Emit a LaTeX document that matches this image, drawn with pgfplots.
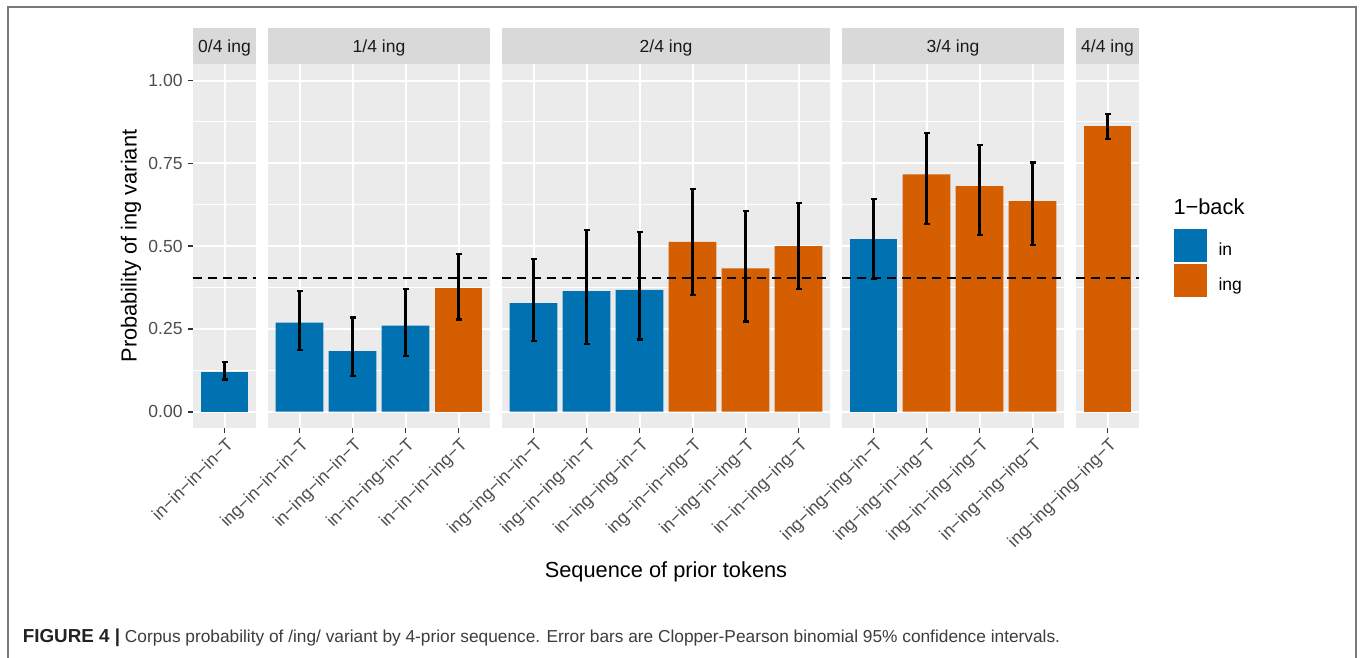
\documentclass[border=0pt]{standalone}
\usepackage{fontspec}
\setmainfont{Liberation Sans}
\usepackage{pgfplots}
\usepackage{pgfplotstable}
\pgfplotsset{compat=1.18}

\definecolor{cin}{HTML}{0072B2}
\definecolor{cing}{HTML}{D55E00}
\definecolor{panelbg}{HTML}{EBEBEB}
\definecolor{stripbg}{HTML}{D9D9D9}
\definecolor{tickgray}{HTML}{4D4D4D}
\definecolor{tickmark}{HTML}{333333}
\definecolor{striptext}{HTML}{1A1A1A}
\definecolor{framegray}{HTML}{7A7A7A}
\definecolor{capdark}{HTML}{222222}
\definecolor{captxt}{HTML}{3C3C3C}

\newcommand{\ticksize}{\fontsize{17.5}{20}\selectfont}
\newcommand{\titlesize}{\fontsize{21.8}{25}\selectfont}

% x = position in facet, p = probability, lo/hi = 95% CI, g = 1-back (0 = in, 1 = ing)
\pgfplotstableread{
x p lo hi g
1 0.121 0.097 0.150 0
}\tabA
\pgfplotstableread{
x p lo hi g
1 0.269 0.187 0.365 0
2 0.183 0.107 0.285 0
3 0.260 0.169 0.370 0
4 0.374 0.279 0.477 1
}\tabB
\pgfplotstableread{
x p lo hi g
1 0.328 0.213 0.462 0
2 0.364 0.205 0.549 0
3 0.368 0.218 0.542 0
4 0.513 0.352 0.672 1
5 0.433 0.272 0.607 1
6 0.500 0.371 0.631 1
}\tabC
\pgfplotstableread{
x p lo hi g
1 0.521 0.401 0.643 0
2 0.717 0.567 0.841 1
3 0.681 0.534 0.806 1
4 0.636 0.504 0.753 1
}\tabD
\pgfplotstableread{
x p lo hi g
1 0.864 0.824 0.899 1
}\tabE

\pgfplotsset{
  facet/.style={
    scale only axis, height=364.3pt, anchor=south west,
    ymin=-0.05, ymax=1.05,
    axis background/.style={fill=panelbg},
    axis line style={draw=none},
    ytick={0,0.25,0.5,0.75,1},
    minor ytick={0.125,0.375,0.625,0.875},
    ymajorgrids, yminorgrids, xmajorgrids,
    major grid style={white, line width=2pt},
    minor grid style={white, line width=1pt},
    tick pos=left, tick align=outside,
    major tick length=5pt, minor tick length=0pt,
    tick style={tickmark, line width=1.6pt},
    xticklabel style={rotate=45, anchor=north east, inner sep=0pt,
      font=\ticksize, text=tickgray, yshift=-3pt, xshift=-2pt},
    yticklabel style={font=\ticksize, text=tickgray, inner sep=0pt, xshift=-5pt},
    bar width=0.9,
  },
  noy/.style={yticklabels={}, ytick style={draw=none}},
  barbase/.style={ybar, bar shift=0pt, draw=none},
  stem/.style={forget plot, black, line width=2.6pt, mark=none,
    quiver={u=0, v=\thisrow{hi}-\thisrow{lo}}},
  cap/.style={forget plot, only marks, black, mark=-, mark size=3pt,
    mark options={line width=2.4pt, black}},
  hline/.style={black, line width=1.9pt, dash pattern=on 9pt off 6pt, forget plot},
}

\newcommand{\errplot}[1]{%
  \addplot[stem] table[x=x, y=lo] {#1};
  \addplot[cap] table[x=x, y=lo] {#1};
  \addplot[cap] table[x=x, y=hi] {#1};}

\begin{document}
\begin{tikzpicture}[x=1pt,y=1pt]
\useasboundingbox (0,0) rectangle (1360,658);

% Panel 0/4
\begin{axis}[facet, name=a1, at={(192.7pt,229.7pt)}, width=63.6pt,
  xmin=0.4, xmax=1.6, xtick={1}, xticklabels={in−in−in−in−T},
  yticklabels={0.00,0.25,0.50,0.75,1.00}]
\addplot[barbase, fill=cin] table[x=x, y=p] {\tabA};
\errplot{\tabA}
\addplot[hline] coordinates {(0.4,0.403) (1.6,0.403)};
\end{axis}

% Panel 1/4
\begin{axis}[facet, noy, name=a2, at={(267.7pt,229.7pt)}, width=222.6pt,
  xmin=0.4, xmax=4.6, xtick={1,2,3,4},
  xticklabels={ing−in−in−in−T, in−ing−in−in−T, in−in−ing−in−T, in−in−in−ing−T}]
\addplot[barbase, fill=cin, restrict expr to domain={\thisrow{g}}{0:0}] table[x=x, y=p] {\tabB};
\addplot[barbase, fill=cing, restrict expr to domain={\thisrow{g}}{1:1}] table[x=x, y=p] {\tabB};
\errplot{\tabB}
\addplot[hline] coordinates {(0.4,0.403) (4.6,0.403)};
\end{axis}

% Panel 2/4
\begin{axis}[facet, noy, name=a3, at={(501.7pt,229.7pt)}, width=328.6pt,
  xmin=0.4, xmax=6.6, xtick={1,2,3,4,5,6},
  xticklabels={ing−ing−in−in−T, ing−in−ing−in−T, in−ing−ing−in−T, ing−in−in−ing−T, in−ing−in−ing−T, in−in−ing−ing−T}]
\addplot[barbase, fill=cin, restrict expr to domain={\thisrow{g}}{0:0}] table[x=x, y=p] {\tabC};
\addplot[barbase, fill=cing, restrict expr to domain={\thisrow{g}}{1:1}] table[x=x, y=p] {\tabC};
\errplot{\tabC}
\addplot[hline] coordinates {(0.4,0.403) (6.6,0.403)};
\end{axis}

% Panel 3/4
\begin{axis}[facet, noy, name=a4, at={(841.7pt,229.7pt)}, width=222.6pt,
  xmin=0.4, xmax=4.6, xtick={1,2,3,4},
  xticklabels={ing−ing−ing−in−T, ing−ing−in−ing−T, ing−in−ing−ing−T, in−ing−ing−ing−T}]
\addplot[barbase, fill=cin, restrict expr to domain={\thisrow{g}}{0:0}] table[x=x, y=p] {\tabD};
\addplot[barbase, fill=cing, restrict expr to domain={\thisrow{g}}{1:1}] table[x=x, y=p] {\tabD};
\errplot{\tabD}
\addplot[hline] coordinates {(0.4,0.403) (4.6,0.403)};
\end{axis}

% Panel 4/4 (+ legend)
\begin{axis}[facet, noy, name=a5, at={(1075.7pt,229.7pt)}, width=63.6pt,
  xmin=0.4, xmax=1.6, xtick={1}, xticklabels={ing−ing−ing−ing−T},
  legend cell align=left,
  legend style={at={(1.5346,0.5463)}, anchor=north west, draw=none, fill=none,
    inner sep=0pt, row sep=2.7pt, font=\ticksize, text=black,
    nodes={inner sep=0pt},
    /tikz/every odd column/.append style={column sep=12.3pt}}]
\addplot[barbase, fill=cing, forget plot] table[x=x, y=p] {\tabE};
\errplot{\tabE}
\addplot[hline] coordinates {(0.4,0.403) (1.6,0.403)};
\addlegendimage{legend image code/.code={\fill[cin] (0pt,-11.4pt) rectangle (32.4pt,20.4pt);}}
\addlegendentry{in}
\addlegendimage{legend image code/.code={\fill[cing] (0pt,-11.4pt) rectangle (32.4pt,20.4pt);}}
\addlegendentry{ing}
\end{axis}

% facet strips
\foreach \a/\t in {a1/0\slash 4 ing, a2/1\slash 4 ing, a3/2\slash 4 ing, a4/3\slash 4 ing, a5/4\slash 4 ing}{
  \fill[stripbg] (\a.north west) rectangle ([yshift=35.7pt]\a.north east);
  \node[font=\ticksize, text=striptext] at ([yshift=16.5pt]\a.north) {\t};
}

% axis titles
\node[rotate=90, font=\titlesize] at (131,412) {Probability of ing variant};
\node[font=\titlesize] at (666,86) {Sequence of prior tokens};
\node[anchor=base west, font=\titlesize, inner sep=0pt] at (1173.3,443) {1−back};

% caption
\node[anchor=base west, inner sep=0pt, font=\fontsize{17.3}{20}\selectfont, text=captxt] at (22.7,15.3)
  {\textcolor{capdark}{\fontsize{18.8}{20}\selectfont\textbf{FIGURE 4 |}} Corpus probability of /ing/ variant by 4-prior sequence. Error bars are Clopper-Pearson binomial 95\% confidence intervals.};

% frame
\draw[framegray, line width=2pt] (7.5,-5) -- (7.5,651) -- (1355.5,651) -- (1355.5,-5);
\end{tikzpicture}
\end{document}
